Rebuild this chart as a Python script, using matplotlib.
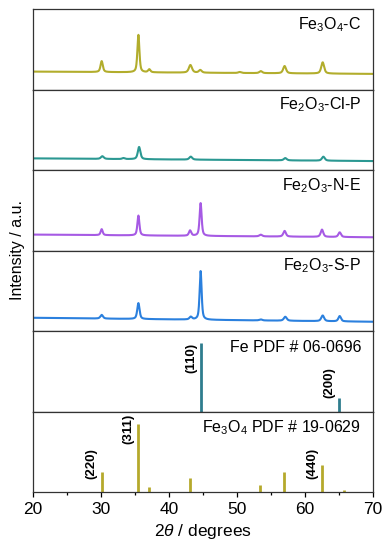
import numpy as np
import matplotlib
matplotlib.use("Agg")
import matplotlib.pyplot as plt
from matplotlib.ticker import MultipleLocator

plt.rcParams['font.family'] = ['Liberation Sans', 'DejaVu Sans']
plt.rcParams['mathtext.fontset'] = 'custom'
plt.rcParams['mathtext.rm'] = 'Liberation Sans'
plt.rcParams['mathtext.it'] = 'Liberation Sans:italic'

# ---- data ----
sample_names = [r'Fe$_3$O$_4$-C', r'Fe$_2$O$_3$-Cl-P', r'Fe$_2$O$_3$-N-E', r'Fe$_2$O$_3$-S-P']
sample_colors = ['#B2AD2C', '#2B9892', '#A65AE4', '#2B80DE']
# baseline level at 2theta=20 and 2theta=70 (a.u.)
base_left = [18.0, 11.7, 16.0, 13.3]
base_right = [15.7, 9.0, 13.3, 9.3]
# peak positions (2theta) and heights above baseline (a.u.)
peak_pos = [
    [30.1, 35.5, 37.1, 43.15, 44.6, 50.4, 53.5, 57.0, 62.6],
    [30.2, 33.3, 35.6, 43.2, 57.1, 62.7],
    [30.1, 35.5, 43.1, 44.65, 53.5, 57.0, 62.5, 65.1],
    [30.1, 35.5, 43.2, 44.65, 53.5, 57.1, 62.6, 65.1],
]
peak_h = [
    [11.0, 37.7, 3.0, 7.7, 2.7, 1.0, 2.0, 7.3, 11.3],
    [2.7, 1.0, 12.3, 3.0, 2.3, 4.0],
    [6.0, 20.0, 5.3, 33.0, 1.7, 5.7, 7.3, 4.7],
    [3.7, 16.0, 2.7, 49.0, 1.0, 4.0, 5.7, 5.3],
]
peak_fwhm = [
    [0.4, 0.35, 0.4, 0.55, 0.5, 0.5, 0.5, 0.5, 0.5],
    [0.5, 0.45, 0.45, 0.5, 0.5, 0.5],
    [0.35, 0.35, 0.4, 0.35, 0.5, 0.45, 0.45, 0.45],
    [0.45, 0.4, 0.45, 0.35, 0.5, 0.5, 0.5, 0.45],
]

ref_names = ['Fe PDF # 06-0696', r'Fe$_3$O$_4$ PDF # 19-0629']
ref_colors = ['#2F7D8E', '#B5A92C']
ref_pos = [[44.67, 65.02], [30.1, 35.42, 37.05, 43.05, 53.39, 56.94, 62.52, 65.7]]
ref_int = [[100, 20], [30, 100, 8, 20, 10, 30, 40, 3]]
ref_hkl = [['(110)', '(200)'], ['(220)', '(311)', '', '', '', '', '(440)', '']]

xticks = [20, 30, 40, 50, 60, 70]

# ---- figure ----
fig = plt.figure(figsize=(3.89, 5.5), dpi=100)
W, H = 389, 550
left, right, top, bottom = 33 / W, 373 / W, 1 - 9 / H, 1 - 492 / H
axes = fig.subplots(6, 1, sharex=True, gridspec_kw=dict(hspace=0))
fig.subplots_adjust(left=left, right=right, top=top, bottom=bottom)

x = np.linspace(20, 70, 3000)
for i, ax in enumerate(axes[:4]):
    base = base_left[i] + (base_right[i] - base_left[i]) * (x - 20) / 50
    y = base.copy()
    for p, h, w in zip(peak_pos[i], peak_h[i], peak_fwhm[i]):
        g = w / 2
        y += h * (0.6 * g**2 / ((x - p)**2 + g**2) + 0.4 * np.exp(-4 * np.log(2) * (x - p)**2 / w**2))
    ax.plot(x, y, color=sample_colors[i], lw=1.5)
    ax.set_ylim(0, 81)
    ax.text(0.965, 0.81, sample_names[i], transform=ax.transAxes, ha='right', va='center', fontsize=11.5)

label_y = [[0.67, 0.36], [0.35, 0.78, None, None, None, None, 0.35, None]]
for j, ax in enumerate(axes[4:]):
    ax.vlines(ref_pos[j], 0, ref_int[j], color=ref_colors[j], lw=2.0)
    ax.set_ylim(0, 118)
    ax.text(0.965, 0.8, ref_names[j], transform=ax.transAxes, ha='right', va='center', fontsize=11.5)
    for p, lab, ly in zip(ref_pos[j], ref_hkl[j], label_y[j]):
        if lab:
            ax.text(p - 1.45, ly, lab, transform=ax.get_xaxis_transform(), rotation=90,
                    ha='center', va='center', fontsize=9.5, fontweight='bold')

for ax in axes:
    ax.set_yticks([])
    ax.set_xlim(20, 70)
    for s in ax.spines.values():
        s.set_linewidth(0.9)
        s.set_color('#333333')
    ax.tick_params(axis='x', which='both', bottom=False, top=False, labelbottom=False)

axb = axes[-1]
axb.tick_params(axis='x', which='major', bottom=True, direction='out', length=3.5, width=0.9,
                labelbottom=True, labelsize=12.5, pad=4)
axb.tick_params(axis='x', which='minor', bottom=True, direction='out', length=2, width=0.9)
axb.set_xticks(xticks)
axb.xaxis.set_minor_locator(MultipleLocator(5))
axb.set_xlabel(r'$\mathit{2\theta}$ / degrees', fontsize=12.5, labelpad=3)

fig.text(0.045, (top + bottom) / 2, 'Intensity / a.u.', rotation=90, ha='center', va='center', fontsize=11.5)

fig.savefig('out.png', dpi=100)
